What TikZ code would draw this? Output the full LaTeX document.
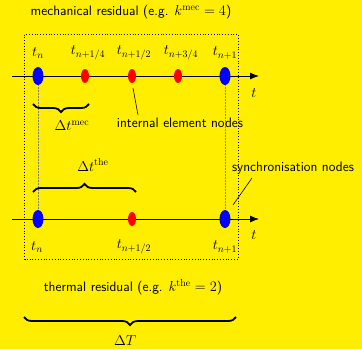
\documentclass[tikz,border=0pt]{standalone}
\usetikzlibrary{decorations.pathreplacing,shapes.geometric,arrows.meta}
\definecolor{bg}{RGB}{255,238,0}
\begin{document}
\begin{tikzpicture}[x=1pt,y=-1pt,
  bignode/.style={ellipse, fill=blue, minimum width=11pt, minimum height=18pt, inner sep=0pt},
  smallnode/.style={ellipse, fill=red, minimum width=8pt, minimum height=14pt, inner sep=0pt},
  lbl/.style={font=\fontsize{13.7}{16}\selectfont\sffamily, inner sep=0pt},
  mlbl/.style={font=\fontsize{13.7}{16}\selectfont, inner sep=0pt},
  brc/.style={decorate, decoration={brace, amplitude=8pt}, line width=1.8pt},
  axis/.style={-{Latex[length=9pt,width=7pt]}, line width=0.9pt},
  guide/.style={densely dotted, gray, line width=0.5pt}]
\fill[bg] (0,0) rectangle (362,349);
\useasboundingbox (0,0) rectangle (362,349);
% dotted frame
\draw[dotted, line width=0.8pt] (24.5,34.5) rectangle (238,259);
% titles
\node[lbl] (tmec) at (131,12) {mechanical residual (e.g. $k^{\mathrm{mec}}=4$)};
\node[lbl] (tthe) at (133,287) {thermal residual (e.g. $k^{\mathrm{the}}=2$)};
% axes
\coordinate (a1s) at (12,76); \coordinate (a1e) at (259,76);
\coordinate (a2s) at (12,219); \coordinate (a2e) at (259,219);
% guides (behind)
\coordinate (g1) at (38,76); \coordinate (g2) at (225,76);
\coordinate (h1) at (38,219); \coordinate (h2) at (225,219);
\draw[guide] (g1) -- (h1);
\draw[guide] (g2) -- (h2);
\draw[axis] (a1s) -- (a1e);
\draw[axis] (a2s) -- (a2e);
\node[mlbl] (tt1) at (254,93) {$t$};
\node[mlbl] (tt2) at (254,235) {$t$};
% mechanical nodes
\node[bignode] (b1) at (38,76) {};
\node[smallnode] (r1) at (85,76) {};
\node[smallnode] (r2) at (132,76) {};
\node[smallnode] (r3) at (178,76) {};
\node[bignode] (b2) at (225,76) {};
\node[mlbl] (lb1) at (38,53) {$t_n$};
\node[mlbl] (lr1) at (88,53) {$t_{n+1/4}$};
\node[mlbl] (lr2) at (134,53) {$t_{n+1/2}$};
\node[mlbl] (lr3) at (181,53) {$t_{n+3/4}$};
\node[mlbl] (lb2) at (225,53) {$t_{n+1}$};
% thermal nodes
\node[bignode] (c1) at (38,219) {};
\node[smallnode] (s1) at (132,219) {};
\node[bignode] (c2) at (225,219) {};
\node[mlbl] (lc1) at (37,247) {$t_n$};
\node[mlbl] (ls1) at (134,247) {$t_{n+1/2}$};
\node[mlbl] (lc2) at (225,247) {$t_{n+1}$};
% braces
\draw[brc] (89,104) -- (33,104);
\node[mlbl] (dmec) at (72,126) {$\Delta t^{\mathrm{mec}}$};
\draw[brc] (33,192) -- (136,192);
\node[mlbl] (dthe) at (93,165) {$\Delta t^{\mathrm{the}}$};
\draw[brc] (236,317) -- (24,317);
\node[mlbl] (dT) at (125,341) {$\Delta T$};
% annotations
\node[lbl] (ien) at (180,123) {internal element nodes};
\coordinate (p1) at (133,88);
\coordinate (q1) at (138,115);
\draw[line width=0.6pt] (p1) -- (q1);
\node[lbl] (syn) at (293,168) {synchronisation nodes};
\coordinate (p2) at (233,205);
\coordinate (q2) at (252,178);
\draw[line width=0.6pt] (q2) -- (p2);
\end{tikzpicture}
\end{document}
